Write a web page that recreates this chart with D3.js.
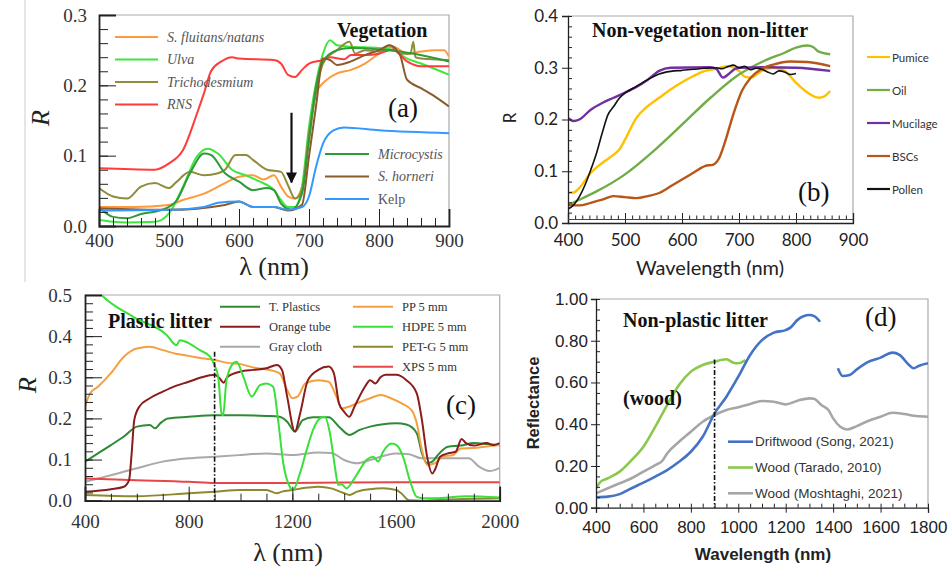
<!DOCTYPE html>
<html>
<head>
<meta charset="utf-8">
<script src="https://cdn.jsdelivr.net/npm/d3@7"></script>
<style>
  body { margin: 0; background: #fff; }
</style>
</head>
<body>
<svg id="chart" width="950" height="567"></svg>
<script>
// ---- panel (a) vegetation : [wavelength nm, R]
const aFluitans = [[400,.027],[450,.027],[500,.03],[520,.037],[550,.046],[580,.061],[600,.07],[620,.072],[635,.066],[650,.072],[660,.056],[670,.042],[680,.039],[690,.056],[700,.122],[710,.189],[720,.203],[740,.217],[760,.222],[780,.231],[800,.245],[820,.255],[840,.245],[860,.248],[880,.25],[893,.25],[900,.241]]
const aUlva = [[400,.0085],[420,.006],[440,.005],[480,.006],[500,.018],[520,.056],[540,.099],[555,.11],[570,.103],[590,.08],[610,.072],[630,.063],[650,.051],[660,.037],[670,.027],[680,.027],[690,.056],[700,.141],[710,.203],[720,.245],[730,.264],[740,.257],[760,.255],[800,.253],[820,.25],[840,.238],[860,.231],[900,.215]]
const aTricho = [[400,.054],[420,.042],[440,.039],[460,.056],[480,.061],[500,.054],[510,.062],[530,.077],[550,.072],[570,.075],[580,.08],[595,.101],[610,.101],[620,.094],[640,.08],[660,.077],[670,.058],[680,.039],[690,.051],[700,.132],[710,.19],[720,.231],[740,.25],[758,.262],[766,.245],[780,.25],[800,.248],[815,.257],[830,.245],[845,.245],[849,.262],[852,.24],[860,.238],[900,.236]]
const aRNS = [[400,.082],[480,.08],[500,.089],[520,.108],[540,.16],[550,.189],[560,.22],[575,.234],[590,.24],[600,.238],[650,.236],[660,.231],[670,.215],[680,.212],[690,.222],[700,.231],[720,.236],[730,.24],[750,.237],[760,.243],[780,.243],[800,.245],[820,.251],[840,.234],[860,.227],[900,.227]]
const aMicro = [[400,.027],[420,.013],[440,.011],[460,.017],[490,.023],[510,.035],[530,.075],[550,.103],[560,.101],[580,.075],[600,.063],[620,.051],[640,.054],[650,.051],[660,.032],[675,.023],[690,.046],[700,.122],[710,.198],[720,.234],[740,.25],[760,.253],[800,.251],[850,.245],[900,.234]]
const aHorneri = [[400,.025],[500,.023],[580,.03],[600,.035],[620,.027],[650,.027],[670,.022],[690,.03],[700,.099],[710,.17],[720,.238],[730,.236],[740,.229],[760,.234],[780,.243],[800,.25],[815,.257],[830,.243],[840,.208],[860,.196],[880,.184],[900,.17]]
const aKelp = [[400,.022],[500,.023],[550,.027],[570,.033],[600,.035],[620,.027],[650,.027],[670,.023],[690,.027],[700,.042],[710,.084],[720,.117],[735,.136],[750,.14],[800,.136],[900,.132]]
const aNamesTop = ["S. fluitans/natans", "Ulva", "Trichodesmium", "RNS"]
const aNamesBottom = ["Microcystis", "S. horneri", "Kelp"]

// ---- panel (b) non-vegetation non-litter
const bPumice = [[400,.058],[410,.059],[420,.068],[440,.097],[460,.116],[480,.132],[490,.142],[500,.161],[520,.203],[540,.226],[560,.242],[580,.258],[600,.272],[620,.284],[640,.294],[660,.298],[680,.303],[700,.294],[710,.283],[720,.281],[740,.294],[760,.3],[780,.294],[800,.271],[820,.252],[840,.242],[850,.245],[860,.255]]
const bOil = [[400,.035],[420,.045],[450,.061],[500,.094],[550,.139],[600,.19],[650,.242],[700,.287],[720,.3],[750,.316],[780,.329],[800,.339],[820,.343],[830,.34],[840,.331],[860,.326]]
const bMucilage = [[400,.203],[410,.197],[420,.2],[440,.219],[460,.232],[480,.242],[500,.252],[520,.263],[540,.277],[560,.294],[580,.3],[650,.301],[660,.298],[672,.281],[682,.288],[692,.297],[700,.3],[750,.301],[800,.3],[860,.294]]
const bBSC = [[400,.035],[420,.034],[440,.039],[460,.045],[480,.052],[500,.05],[520,.048],[540,.052],[560,.058],[580,.071],[600,.084],[620,.097],[640,.11],[655,.113],[665,.125],[675,.155],[690,.21],[705,.255],[720,.28],[740,.298],[760,.306],[790,.312],[820,.311],[860,.303]]
const bPollen = [[400,.027],[410,.035],[420,.051],[430,.074],[440,.103],[450,.135],[460,.174],[470,.209],[480,.225],[490,.241],[500,.251],[520,.264],[540,.277],[560,.288],[580,.293],[600,.295],[620,.297],[640,.299],[660,.3],[670,.298],[680,.302],[690,.305],[700,.3],[710,.303],[720,.296],[730,.299],[740,.297],[750,.292],[760,.288],[770,.294],[780,.292],[790,.287],[800,.289]]
const bNames = ["Pumice", "Oil", "Mucilage", "BSCs", "Pollen"]

// ---- panel (c) plastic litter
const cTPlastics = [[400,.095],[450,.115],[500,.135],[550,.156],[600,.18],[650,.184],[670,.176],[690,.188],[720,.2],[800,.204],[900,.208],[1000,.208],[1100,.206],[1150,.204],[1180,.192],[1210,.168],[1240,.196],[1280,.203],[1340,.203],[1380,.18],[1420,.16],[1460,.172],[1500,.18],[1550,.186],[1600,.188],[1640,.185],[1680,.164],[1700,.115],[1720,.091],[1740,.095],[1760,.11],[1800,.131],[1850,.134],[1900,.14],[1950,.138],[2000,.135]]
const cOrangeTube = [[400,.022],[500,.028],[550,.034],[570,.05],[580,.115],[590,.196],[610,.229],[650,.249],[700,.265],[750,.279],[800,.289],[850,.3],[900,.306],[920,.297],[935,.287],[950,.301],[1000,.314],[1050,.318],[1100,.322],[1140,.33],[1160,.318],[1180,.253],[1210,.168],[1230,.212],[1260,.293],[1300,.318],[1340,.326],[1360,.31],[1380,.237],[1400,.216],[1420,.204],[1440,.229],[1480,.277],[1500,.293],[1520,.285],[1540,.3],[1560,.306],[1600,.306],[1640,.293],[1680,.261],[1700,.196],[1720,.107],[1740,.066],[1750,.075],[1770,.107],[1800,.115],[1830,.119],[1853,.15],[1870,.14],[1900,.134],[1950,.14],[1975,.135],[2000,.14]]
const cGrayCloth = [[400,.046],[450,.054],[500,.062],[600,.079],[700,.095],[800,.103],[900,.107],[1000,.111],[1100,.115],[1200,.111],[1300,.117],[1350,.116],[1400,.099],[1450,.091],[1500,.099],[1600,.115],[1650,.113],[1700,.103],[1800,.103],[1880,.103],[1920,.083],[1960,.072],[2000,.08]]
const cPP = [[400,.229],[420,.261],[450,.277],[500,.31],[550,.35],[600,.37],[650,.374],[700,.366],[750,.357],[800,.352],[850,.346],[900,.342],[950,.335],[1000,.332],[1050,.324],[1100,.319],[1150,.31],[1180,.269],[1200,.249],[1220,.253],[1250,.285],[1300,.293],[1340,.289],[1370,.253],[1390,.224],[1420,.229],[1450,.237],[1500,.249],[1540,.257],[1580,.249],[1620,.237],[1660,.22],[1680,.188],[1700,.123],[1720,.087],[1750,.091],[1780,.107],[1820,.111],[1850,.127],[1900,.128],[1950,.132],[2000,.136]]
const cHDPE = [[400,.55],[464,.5],[586,.447],[715,.403],[753,.378],[766,.39],[786,.387],[843,.366],[882,.35],[899,.33],[914,.301],[927,.212],[933,.208],[946,.293],[972,.334],[985,.338],[1011,.301],[1043,.253],[1075,.281],[1100,.285],[1126,.277],[1145,.196],[1165,.091],[1190,.034],[1203,.026],[1229,.066],[1255,.123],[1280,.172],[1306,.2],[1325,.204],[1345,.164],[1364,.083],[1377,.038],[1390,.04],[1409,.03],[1435,.05],[1460,.075],[1486,.099],[1512,.107],[1531,.095],[1550,.119],[1583,.139],[1602,.135],[1627,.107],[1653,.05],[1679,.01],[1705,.006],[1750,.006],[1872,.011],[2000,.008]]
const cPETG = [[400,.014],[600,.011],[800,.018],[900,.022],[1000,.026],[1100,.026],[1140,.018],[1160,.022],[1200,.026],[1260,.032],[1300,.034],[1350,.03],[1400,.018],[1420,.014],[1450,.022],[1500,.028],[1550,.03],[1600,.026],[1620,.018],[1650,.001],[1700,0],[1800,.003],[2000,.006]]
const cXPS = [[400,.054],[600,.05],[800,.046],[900,.043],[1200,.043],[1600,.045],[2000,.045]]
const cNamesLeft = ["T. Plastics", "Orange tube", "Gray cloth"]
const cNamesRight = ["PP 5 mm", "HDPE 5 mm", "PET-G 5 mm", "XPS 5 mm"]

// ---- panel (d) non-plastic litter
const dDrift1 = [[400,.05],[450,.053],[500,.065],[550,.093],[600,.12],[650,.149],[700,.18],[750,.22],[800,.268],[850,.34],[900,.452],[950,.532],[1000,.628],[1050,.732],[1100,.803],[1150,.839],[1200,.851],[1220,.863],[1250,.9],[1300,.923],[1320,.918],[1345,.891]]
const dDrift2 = [[1420,.668],[1440,.631],[1470,.636],[1500,.663],[1550,.7],[1600,.719],[1650,.743],[1680,.732],[1720,.684],[1740,.668],[1760,.679],[1800,.692]]
const dTarado = [[400,.093],[420,.125],[450,.141],[500,.173],[550,.228],[600,.292],[650,.388],[700,.492],[750,.588],[800,.652],[850,.684],[900,.7],[950,.711],[980,.695],[1000,.692],[1030,.708]]
const dMoshtaghi = [[400,.069],[450,.093],[500,.117],[550,.141],[600,.173],[650,.204],[680,.225],[700,.26],[750,.316],[800,.364],[850,.412],[900,.444],[950,.468],[1000,.481],[1050,.497],[1100,.511],[1150,.508],[1200,.495],[1250,.513],[1300,.524],[1320,.522],[1350,.492],[1380,.468],[1400,.428],[1430,.388],[1460,.375],[1500,.391],[1550,.417],[1600,.436],[1650,.455],[1700,.449],[1750,.439],[1800,.436]]
const dNames = ["Driftwood (Song, 2021)", "Wood (Tarado, 2010)", "Wood (Moshtaghi, 2021)"]

const SERIF = "'Liberation Serif', 'Times New Roman', serif"
const SANS = "'Liberation Sans', Arial, sans-serif"
const CAL = "Lato, 'Open Sans', sans-serif"

const svg = d3.select("#chart")

const makePanel = (name, xd, xr, yd, yr) => {
    const x = d3.scaleLinear().domain(xd).range(xr)
    const y = d3.scaleLinear().domain(yd).range(yr)
    const id = "clip-" + name
    svg.append("clipPath").attr("id", id)
        .append("rect")
        .attr("x", xr[0]).attr("y", yr[1])
        .attr("width", xr[1] - xr[0]).attr("height", yr[0] - yr[1])
    const g = svg.append("g")
    // light frame on top and right
    g.append("path")
        .attr("d", `M${xr[0]},${yr[1]}H${xr[1]}V${yr[0]}`)
        .attr("fill", "none").attr("stroke", "#aaa").attr("stroke-width", 1.2)
    return { x, y, g, clip: `url(#${id})` }
}

const styleAxis = (sel, font, size, color, domainW) => {
    sel.attr("font-family", font).attr("font-size", size)
    sel.selectAll("text").attr("fill", color)
    sel.selectAll("line").attr("stroke", "#222")
    sel.select(".domain").attr("stroke", "#222").attr("stroke-width", domainW)
}

const minor = (sel, axis) => {
    sel.call(axis)
    sel.select(".domain").remove()
    sel.selectAll("line").attr("stroke", "#222")
}

const drawSeries = (p, data, color, w) =>
    p.g.append("path")
        .datum(data)
        .attr("clip-path", p.clip)
        .attr("fill", "none")
        .attr("stroke", color)
        .attr("stroke-width", w)
        .attr("stroke-linejoin", "round")
        .attr("d", d3.line()
            .x(d => p.x(d[0]))
            .y(d => p.y(d[1]))
            .curve(d3.curveMonotoneX))

const addText = (x, y, str, font, size, opts = {}) => {
    const t = svg.append("text")
        .attr("x", x).attr("y", y)
        .attr("font-family", font).attr("font-size", size)
        .attr("fill", opts.fill || "#111")
        .attr("font-weight", opts.weight || "normal")
        .attr("font-style", opts.style || "normal")
        .attr("text-anchor", opts.anchor || "start")
        .text(str)
    if (opts.rotate) {
        t.attr("x", 0).attr("y", 0)
            .attr("transform", `translate(${x},${y}) rotate(-90)`)
            .attr("text-anchor", "middle")
            .attr("dominant-baseline", "central")
    }
    return t
}

const legendRow = (x1, x2, y, color, w, label, font, size, fill, style) => {
    svg.append("line").attr("x1", x1).attr("x2", x2).attr("y1", y).attr("y2", y)
        .attr("stroke", color).attr("stroke-width", w)
    addText(x2 + (x2 - x1 > 30 ? 9 : 2), y, label, font, size, { fill, style })
        .attr("dominant-baseline", "central")
}

// ================= (a)
const pa = makePanel("a", [400, 900], [99, 449], [0, 0.3], [226, 15])
svg.append("line").attr("x1", 25).attr("x2", 25).attr("y1", 0).attr("y2", 282)
    .attr("stroke", "#ccc")

const aSeries = [
    [aFluitans, "#ff9a3c"], [aUlva, "#3ee63e"], [aTricho, "#8f8c3c"], [aRNS, "#ff3b3b"],
    [aMicro, "#2f9a3a"], [aHorneri, "#8b5a2b"], [aKelp, "#3399ff"]
]
aSeries.forEach(([d, c]) => drawSeries(pa, d, c, 2))

pa.g.append("g").attr("transform", "translate(0,226)")
    .call(g => minor(g, d3.axisBottom(pa.x).tickValues(d3.range(400, 901, 20)).tickSize(-8).tickFormat("")))
pa.g.append("g").attr("transform", "translate(99,0)")
    .call(g => minor(g, d3.axisLeft(pa.y).tickValues(d3.range(0, 0.301, 0.02)).tickSize(-9).tickFormat("")))
pa.g.append("g").attr("transform", "translate(0,226)")
    .call(d3.axisBottom(pa.x).tickValues(d3.range(400, 901, 100)).tickSize(-17).tickPadding(8).tickFormat(d3.format("d")))
    .call(g => styleAxis(g, SERIF, 19, "#333", 1.8))
pa.g.append("g").attr("transform", "translate(99,0)")
    .call(d3.axisLeft(pa.y).tickValues([0, 0.1, 0.2, 0.3]).tickSize(-17).tickPadding(12).tickFormat(d3.format(".1f")))
    .call(g => styleAxis(g, SERIF, 19, "#333", 1.8))

// arrow at the red edge
svg.append("defs").append("marker").attr("id", "arrowhead")
    .attr("viewBox", "0 0 10 10").attr("refX", 9).attr("refY", 5)
    .attr("markerWidth", 5).attr("markerHeight", 6).attr("orient", "auto")
    .append("path").attr("d", "M0,0L10,5L0,10z").attr("fill", "#111")
svg.append("line")
    .attr("x1", pa.x(675)).attr("x2", pa.x(675))
    .attr("y1", pa.y(0.161)).attr("y2", pa.y(0.062))
    .attr("stroke", "#111").attr("stroke-width", 2.2)
    .attr("marker-end", "url(#arrowhead)")

const aColTop = ["#ff9a3c", "#3ee63e", "#8f8c3c", "#ff3b3b"]
aNamesTop.forEach((n, i) => legendRow(115, 158, 37 + i * 22.5, aColTop[i], 2, n, SERIF, 14, "#555", "italic"))
const aColBottom = ["#2f9a3a", "#8b5a2b", "#3399ff"]
aNamesBottom.forEach((n, i) => legendRow(325, 369, 154 + i * 22.5, aColBottom[i], 2, n, SERIF, 14, "#555", i < 2 ? "italic" : "normal"))

addText(337, 37, "Vegetation", SERIF, 20, { weight: "bold" })
addText(388, 117, "(a)", SERIF, 27)
addText(274, 275, "λ (nm)", SERIF, 26, { anchor: "middle", fill: "#222" })
addText(40, 118, "R", SERIF, 26, { rotate: true, style: "italic", fill: "#222" })

// ================= (b)
const pb = makePanel("b", [400, 900], [568, 853], [0, 0.4], [223, 16])
const bColors = ["#ffc000", "#70ad47", "#7030a0", "#b8561a", "#111"]
const bSeries = [bPumice, bOil, bMucilage, bBSC, bPollen]
bSeries.forEach((d, i) => drawSeries(pb, d, bColors[i], i === 4 ? 1.6 : 2.4))

svg.append("line").attr("x1", 568).attr("x2", 853).attr("y1", 219.5).attr("y2", 219.5)
    .attr("stroke", "#444").attr("stroke-width", 1)
pb.g.append("g").attr("transform", "translate(0,219.5)")
    .call(g => minor(g, d3.axisBottom(pb.x).tickValues(d3.range(400, 901, 12.5)).tickSize(-4).tickFormat("")))
pb.g.append("g").attr("transform", "translate(568,0)")
    .call(g => minor(g, d3.axisLeft(pb.y).tickValues(d3.range(0, 0.401, 0.02)).tickSize(-4).tickFormat("")))
pb.g.append("g").attr("transform", "translate(0,223)")
    .call(d3.axisBottom(pb.x).tickValues(d3.range(400, 901, 100)).tickSize(-10).tickPadding(11).tickFormat(d3.format("d")))
    .call(g => styleAxis(g, CAL, 17, "#222", 1.3))
pb.g.append("g").attr("transform", "translate(568,0)")
    .call(d3.axisLeft(pb.y).tickValues([0, 0.1, 0.2, 0.3, 0.4]).tickSize(6).tickPadding(4).tickFormat(d3.format(".1f")))
    .call(g => styleAxis(g, CAL, 17, "#222", 1.3))

bNames.forEach((n, i) => legendRow(867, 890, 57 + i * 33, bColors[i], 2.2, n, CAL, 11.5, "#333"))

addText(592, 37, "Non-vegetation non-litter", SERIF, 20, { weight: "bold" })
addText(798, 201, "(b)", SERIF, 27)
addText(710, 275, "Wavelength (nm)", CAL, 20, { anchor: "middle", fill: "#222" })
addText(509, 118, "R", CAL, 17, { rotate: true, fill: "#222" })

// ================= (c)
const pc = makePanel("c", [400, 2000], [85, 499.7], [0, 0.5], [500.7, 295])
const cColors = ["#2e8b35", "#8b1c1c", "#a9a9a9", "#f5a040", "#38e038", "#8c8a2c", "#e84646"]
const cSeries = [cTPlastics, cOrangeTube, cGrayCloth, cPP, cHDPE, cPETG, cXPS]
;[2, 5, 6, 0, 3, 1, 4].forEach(i => drawSeries(pc, cSeries[i], cColors[i], 2))

pc.g.append("g").attr("transform", "translate(0,500.7)")
    .call(g => minor(g, d3.axisBottom(pc.x).tickValues(d3.range(400, 2001, 100)).tickSize(-7).tickFormat("")))
pc.g.append("g").attr("transform", "translate(85,0)")
    .call(g => minor(g, d3.axisLeft(pc.y).tickValues(d3.range(0, 0.501, 0.02)).tickSize(-8).tickFormat("")))
pc.g.append("g").attr("transform", "translate(0,500.7)")
    .call(d3.axisBottom(pc.x).tickValues(d3.range(400, 2001, 400)).tickSize(-14).tickPadding(14).tickFormat(d3.format("d")))
    .call(g => styleAxis(g, SERIF, 19, "#333", 1.8))
pc.g.append("g").attr("transform", "translate(85,0)")
    .call(d3.axisLeft(pc.y).tickValues([0, 0.1, 0.2, 0.3, 0.4, 0.5]).tickSize(-17).tickPadding(13).tickFormat(d3.format(".1f")))
    .call(g => styleAxis(g, SERIF, 19, "#333", 1.8))

svg.append("line")
    .attr("x1", pc.x(900)).attr("x2", pc.x(900))
    .attr("y1", pc.y(0.362)).attr("y2", pc.y(0))
    .attr("stroke", "#111").attr("stroke-width", 1.6).attr("stroke-dasharray", "5,2,1.5,2")

cNamesLeft.forEach((n, i) => legendRow(220, 260, 306.7 + i * 20, cColors[i], 2, n, SERIF, 12.5, "#333"))
cNamesRight.forEach((n, i) => legendRow(353, 393, 306.7 + i * 20, cColors[i + 3], 2, n, SERIF, 12.5, "#333"))

addText(108, 328, "Plastic litter", SERIF, 20, { weight: "bold" })
addText(446, 414, "(c)", SERIF, 27)
addText(288, 561, "λ (nm)", SERIF, 26, { anchor: "middle", fill: "#222" })
addText(27, 385, "R", SERIF, 26, { rotate: true, style: "italic", fill: "#222" })

// ================= (d)
const pd = makePanel("d", [400, 1800], [596, 928], [0, 1], [507.7, 299])
const dColors = ["#4472c4", "#8cc84b", "#a6a6a6"]
drawSeries(pd, dMoshtaghi, dColors[2], 2.6)
drawSeries(pd, dTarado, dColors[1], 2.6)
drawSeries(pd, dDrift1, dColors[0], 2.6)
drawSeries(pd, dDrift2, dColors[0], 2.6)

pd.g.append("g").attr("transform", "translate(0,507.7)")
    .call(g => minor(g, d3.axisBottom(pd.x).tickValues(d3.range(400, 1801, 50)).tickSize(-4).tickFormat("")))
pd.g.append("g").attr("transform", "translate(596,0)")
    .call(g => minor(g, d3.axisLeft(pd.y).tickValues(d3.range(0, 1.001, 0.05)).tickSize(-4).tickFormat("")))
pd.g.append("g").attr("transform", "translate(0,507.7)")
    .call(d3.axisBottom(pd.x).tickValues(d3.range(400, 1801, 200)).tickSize(5).tickPadding(8).tickFormat(d3.format("d")))
    .call(g => styleAxis(g, SANS, 17, "#222", 1.3))
pd.g.append("g").attr("transform", "translate(596,0)")
    .call(d3.axisLeft(pd.y).tickValues(d3.range(0, 1.001, 0.2)).tickSize(5).tickPadding(3).tickFormat(d3.format(".2f")))
    .call(g => styleAxis(g, SANS, 17, "#222", 1.3))

svg.append("line")
    .attr("x1", pd.x(900)).attr("x2", pd.x(900))
    .attr("y1", pd.y(0.71)).attr("y2", pd.y(0))
    .attr("stroke", "#111").attr("stroke-width", 1.6).attr("stroke-dasharray", "5,2,1.5,2")

dNames.forEach((n, i) => legendRow(728, 753, 441.7 + i * 25.8, dColors[i], 2.6, n, SANS, 13.5, "#333"))

addText(623, 327, "Non-plastic litter", SERIF, 20, { weight: "bold" })
addText(623, 405, "(wood)", SERIF, 20, { weight: "bold" })
addText(865, 326, "(d)", SERIF, 27)
addText(763, 560, "Wavelength (nm)", SANS, 17, { anchor: "middle", weight: "bold", fill: "#222" })
addText(533, 403, "Reflectance", SANS, 16.5, { rotate: true, weight: "bold", fill: "#222" })
</script>
</body>
</html>
